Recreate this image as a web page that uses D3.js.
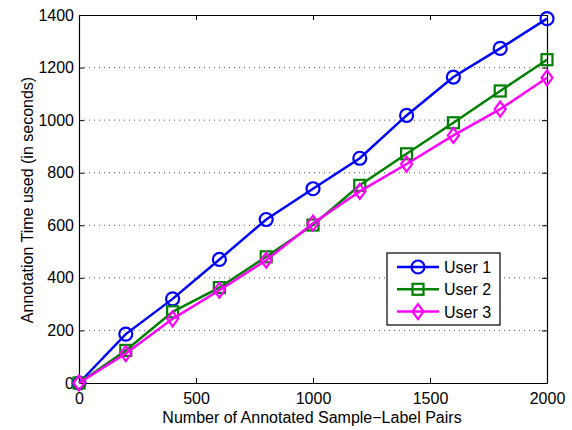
<!DOCTYPE html>
<html>
<head>
<meta charset="utf-8">
<script src="https://cdn.jsdelivr.net/npm/d3@7"></script>
<style>
  body { margin: 0; background: #fff; }
  text { font-family: 'Liberation Sans', Arial, sans-serif; }
</style>
</head>
<body>
<div id="chart"></div>
<script>
// data
const pairs = [0, 200, 400, 600, 800, 1000, 1200, 1400, 1600, 1800, 2000];
const user1 = [0, 186, 320, 470, 622, 739, 855, 1018, 1164, 1273, 1386];
const user2 = [0, 124, 271, 363, 480, 601, 752, 872, 990, 1111, 1230];
const user3 = [0, 112, 244, 353, 467, 608, 729, 833, 942, 1042, 1161];
const seriesNames = ['User 1', 'User 2', 'User 3'];
const xTicks = [0, 500, 1000, 1500, 2000];
const yTicks = [0, 200, 400, 600, 800, 1000, 1200, 1400];

const W = 572, H = 430;
const margin = { top: 15, right: 25, bottom: 47, left: 79 };
const width = W - margin.left - margin.right;
const height = H - margin.top - margin.bottom;
const fs = '16px';

const svg = d3.select('#chart').append('svg')
  .attr('width', W).attr('height', H);
const g = svg.append('g')
  .attr('transform', `translate(${margin.left},${margin.top})`);

const x = d3.scaleLinear().domain([0, 2000]).range([0, width]);
const y = d3.scaleLinear().domain([0, 1400]).range([height, 0]);

// dotted horizontal grid
g.append('g')
  .selectAll('line')
  .data(yTicks.slice(1, -1))
  .join('line')
  .attr('x1', 0).attr('x2', width)
  .attr('y1', d => y(d)).attr('y2', d => y(d))
  .attr('stroke', '#555')
  .attr('stroke-width', 1)
  .attr('stroke-dasharray', '1,4');

// axes (matlab style, ticks inside)
const tk = 5;
const fmt = d3.format('d');
g.append('g').attr('transform', `translate(0,${height})`)
  .call(d3.axisBottom(x).tickValues(xTicks).tickFormat(fmt).tickSize(-tk).tickPadding(10).tickSizeOuter(0));
g.append('g')
  .call(d3.axisLeft(y).tickValues(yTicks).tickFormat(fmt).tickSize(-tk).tickPadding(5).tickSizeOuter(0));
g.append('g')
  .call(d3.axisTop(x).tickValues(xTicks).tickSize(-tk).tickFormat('').tickSizeOuter(0));
g.append('g').attr('transform', `translate(${width},0)`)
  .call(d3.axisRight(y).tickValues(yTicks).tickSize(-tk).tickFormat('').tickSizeOuter(0));
g.selectAll('.domain').attr('stroke', '#000').attr('stroke-width', 1.2);
g.selectAll('.tick line').attr('stroke', '#000');
g.selectAll('.tick text').style('font-size', fs).attr('fill', '#000');

// lines
const series = [
  { name: seriesNames[0], values: user1, color: '#0000ff', marker: 'circle' },
  { name: seriesNames[1], values: user2, color: '#008000', marker: 'square' },
  { name: seriesNames[2], values: user3, color: '#ff00ff', marker: 'diamond' }
];

const line = d3.line()
  .x((d, i) => x(pairs[i]))
  .y(d => y(d));

function drawMarker (sel, type, color) {
  if (type === 'circle') {
    sel.append('circle').attr('r', 6.5);
  } else if (type === 'square') {
    sel.append('rect').attr('x', -5.5).attr('y', -5.5).attr('width', 11).attr('height', 11);
  } else {
    sel.append('path').attr('d', 'M0,-7.5L5.5,0L0,7.5L-5.5,0Z');
  }
  sel.selectAll('circle,rect,path')
    .attr('fill', 'none')
    .attr('stroke', color)
    .attr('stroke-width', 2.2);
}

series.forEach(s => {
  const sg = g.append('g');
  sg.append('path')
    .datum(s.values)
    .attr('d', line)
    .attr('fill', 'none')
    .attr('stroke', s.color)
    .attr('stroke-width', 2.5);
  sg.selectAll('g.mk')
    .data(s.values)
    .join('g')
    .attr('class', 'mk')
    .attr('transform', (d, i) => `translate(${x(pairs[i])},${y(d)})`)
    .each(function () { drawMarker(d3.select(this), s.marker, s.color); });
});

// axis labels
svg.append('text')
  .attr('x', 312)
  .attr('y', 423)
  .attr('text-anchor', 'middle')
  .style('font-size', fs)
  .text('Number of Annotated Sample\u2212Label Pairs');

svg.append('text')
  .attr('transform', 'translate(33,200) rotate(-90)')
  .attr('text-anchor', 'middle')
  .style('font-size', fs)
  .text('Annotation Time used (in seconds)');

// legend
const lg = svg.append('g').attr('transform', 'translate(387,253)');
lg.append('rect')
  .attr('width', 113).attr('height', 72)
  .attr('fill', '#fff').attr('stroke', '#000').attr('stroke-width', 1.2);
series.forEach((s, i) => {
  const row = lg.append('g').attr('transform', `translate(0,${14 + i * 22.3})`);
  row.append('line')
    .attr('x1', 10).attr('x2', 52)
    .attr('stroke', s.color).attr('stroke-width', 2.5);
  const m = row.append('g').attr('transform', 'translate(31,0)');
  drawMarker(m, s.marker, s.color);
  row.append('text')
    .attr('x', 57).attr('y', 6)
    .style('font-size', fs)
    .text(s.name);
});
</script>
</body>
</html>
